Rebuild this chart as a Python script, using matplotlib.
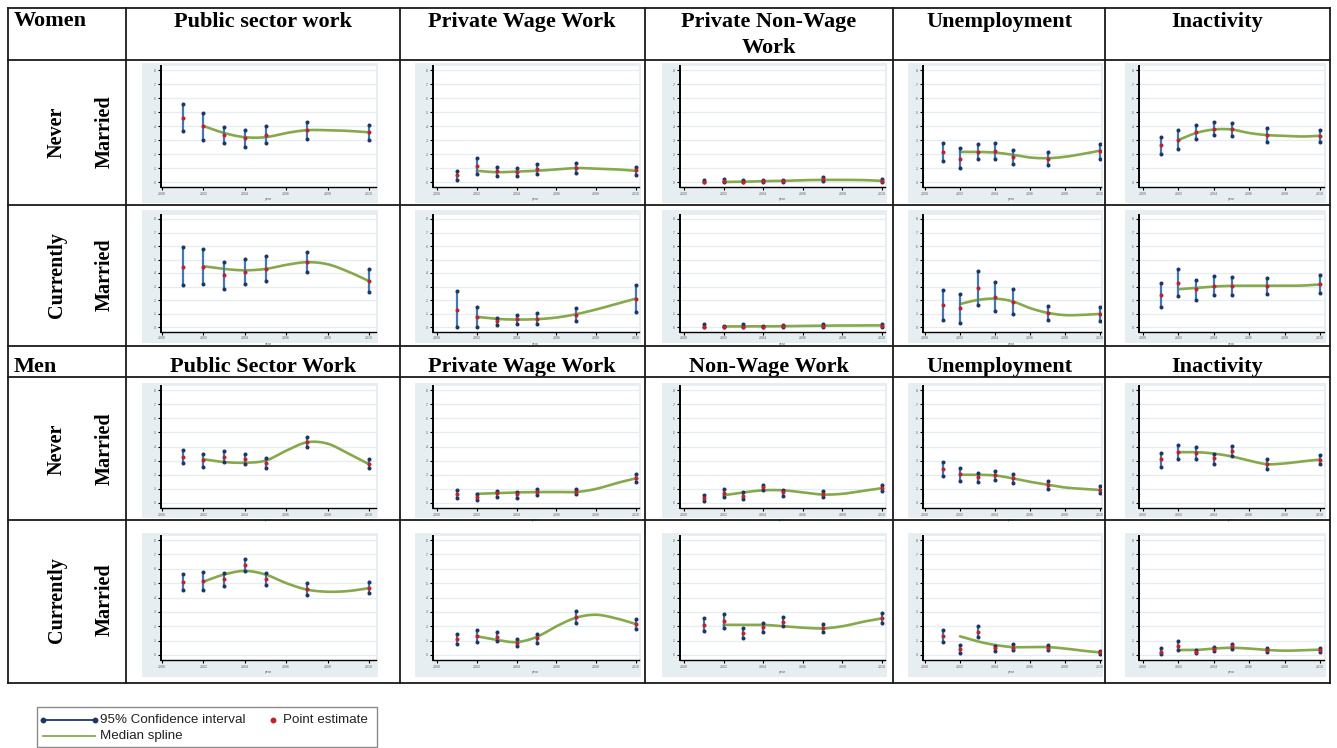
import numpy as np
import matplotlib
matplotlib.use("Agg")
import matplotlib.pyplot as plt
from matplotlib.patches import Rectangle
from matplotlib.lines import Line2D

W, H = 1337, 748

# survey years with an estimate, and years at which the median spline is read
YEARS = [2001, 2002, 2003, 2004, 2005, 2007, 2010]
SPLINE_YEARS = [2002, 2003, 2004, 2005, 2006, 2007, 2008, 2009, 2010]

WOMEN_HEADERS = ["Public sector work", "Private Wage Work", "Private Non-Wage\nWork",
                 "Unemployment", "Inactivity"]
MEN_HEADERS = ["Public Sector Work", "Private Wage Work", "Non-Wage Work",
               "Unemployment", "Inactivity"]
Y_TICKS = [0, .1, .2, .3, .4, .5, .6, .7, .8]
Y_TICK_LABELS = ["0", ".1", ".2", ".3", ".4", ".5", ".6", ".7", ".8"]
X_TICKS = [2000, 2002, 2004, 2006, 2008, 2010]

# ---- Women, never married (columns: public, private wage, non-wage, unemployment, inactivity)
women_never_est = [
    [0.460, 0.400, 0.337, 0.313, 0.335, 0.368, 0.354],
    [0.047, 0.116, 0.078, 0.075, 0.092, 0.100, 0.083],
    [0.003, 0.007, 0.003, 0.005, 0.007, 0.019, 0.009],
    [0.215, 0.167, 0.217, 0.222, 0.182, 0.167, 0.224],
    [0.266, 0.300, 0.356, 0.382, 0.377, 0.337, 0.330],
]
women_never_lo = [
    [0.366, 0.300, 0.276, 0.252, 0.278, 0.309, 0.297],
    [0.017, 0.054, 0.040, 0.040, 0.057, 0.066, 0.052],
    [0.000, 0.000, 0.000, 0.000, 0.000, 0.005, 0.000],
    [0.149, 0.101, 0.167, 0.167, 0.132, 0.120, 0.165],
    [0.203, 0.233, 0.309, 0.333, 0.328, 0.288, 0.285],
]
women_never_hi = [
    [0.556, 0.496, 0.394, 0.373, 0.397, 0.428, 0.409],
    [0.080, 0.175, 0.110, 0.100, 0.127, 0.134, 0.108],
    [0.012, 0.019, 0.012, 0.012, 0.017, 0.033, 0.021],
    [0.280, 0.243, 0.271, 0.278, 0.229, 0.217, 0.271],
    [0.325, 0.368, 0.406, 0.432, 0.425, 0.384, 0.375],
]
women_never_spline = [
    [0.400, 0.350, 0.320, 0.320, 0.350, 0.370, 0.370, 0.365, 0.355],
    [0.080, 0.070, 0.075, 0.080, 0.090, 0.100, 0.095, 0.090, 0.080],
    [0.000, 0.002, 0.006, 0.008, 0.013, 0.015, 0.015, 0.014, 0.008],
    [0.215, 0.215, 0.210, 0.195, 0.175, 0.170, 0.180, 0.200, 0.224],
    [0.300, 0.350, 0.375, 0.375, 0.350, 0.335, 0.330, 0.325, 0.330],
]

# ---- Women, currently married
women_married_est = [
    [0.448, 0.448, 0.382, 0.410, 0.433, 0.480, 0.340],
    [0.124, 0.074, 0.042, 0.057, 0.062, 0.092, 0.211],
    [0.000, 0.000, 0.003, 0.000, 0.005, 0.008, 0.010],
    [0.163, 0.139, 0.292, 0.221, 0.188, 0.104, 0.097],
    [0.238, 0.327, 0.280, 0.304, 0.307, 0.304, 0.317],
]
women_married_lo = [
    [0.310, 0.320, 0.280, 0.318, 0.342, 0.406, 0.256],
    [0.000, 0.000, 0.012, 0.020, 0.025, 0.045, 0.109],
    [0.000, 0.000, 0.000, 0.000, 0.000, 0.000, 0.000],
    [0.050, 0.030, 0.166, 0.119, 0.097, 0.054, 0.047],
    [0.151, 0.228, 0.201, 0.238, 0.235, 0.245, 0.250],
]
women_married_hi = [
    [0.589, 0.580, 0.478, 0.502, 0.527, 0.557, 0.428],
    [0.265, 0.149, 0.067, 0.092, 0.106, 0.140, 0.314],
    [0.020, 0.010, 0.020, 0.006, 0.012, 0.024, 0.025],
    [0.275, 0.245, 0.416, 0.330, 0.282, 0.154, 0.151],
    [0.327, 0.428, 0.351, 0.381, 0.374, 0.364, 0.386],
]
women_married_spline = [
    [0.450, 0.430, 0.420, 0.430, 0.460, 0.480, 0.465, 0.410, 0.340],
    [0.075, 0.060, 0.055, 0.058, 0.070, 0.095, 0.130, 0.170, 0.211],
    [0.004, 0.005, 0.005, 0.006, 0.008, 0.010, 0.011, 0.012, 0.012],
    [0.170, 0.200, 0.210, 0.190, 0.140, 0.105, 0.088, 0.090, 0.097],
    [0.280, 0.290, 0.300, 0.305, 0.305, 0.305, 0.305, 0.307, 0.315],
]

# ---- Men, never married
men_never_est = [
    [0.329, 0.306, 0.329, 0.313, 0.282, 0.435, 0.275],
    [0.064, 0.045, 0.068, 0.061, 0.080, 0.080, 0.179],
    [0.033, 0.068, 0.052, 0.111, 0.075, 0.064, 0.106],
    [0.241, 0.203, 0.186, 0.198, 0.175, 0.127, 0.092],
    [0.309, 0.361, 0.354, 0.316, 0.366, 0.276, 0.307],
]
men_never_lo = [
    [0.282, 0.254, 0.290, 0.278, 0.250, 0.393, 0.247],
    [0.035, 0.021, 0.045, 0.035, 0.059, 0.061, 0.146],
    [0.014, 0.045, 0.028, 0.090, 0.052, 0.042, 0.085],
    [0.191, 0.156, 0.151, 0.160, 0.142, 0.099, 0.068],
    [0.257, 0.309, 0.311, 0.276, 0.333, 0.241, 0.274],
]
men_never_hi = [
    [0.376, 0.350, 0.365, 0.350, 0.320, 0.470, 0.310],
    [0.092, 0.066, 0.087, 0.080, 0.101, 0.101, 0.205],
    [0.057, 0.097, 0.075, 0.130, 0.092, 0.083, 0.130],
    [0.288, 0.245, 0.210, 0.229, 0.205, 0.158, 0.123],
    [0.356, 0.413, 0.399, 0.344, 0.406, 0.311, 0.340],
]
men_never_spline = [
    [0.310, 0.290, 0.285, 0.300, 0.370, 0.430, 0.420, 0.350, 0.275],
    [0.065, 0.070, 0.075, 0.077, 0.078, 0.078, 0.100, 0.140, 0.175],
    [0.055, 0.075, 0.090, 0.090, 0.075, 0.060, 0.065, 0.085, 0.105],
    [0.200, 0.200, 0.195, 0.175, 0.150, 0.130, 0.110, 0.100, 0.092],
    [0.360, 0.360, 0.350, 0.330, 0.300, 0.275, 0.280, 0.295, 0.307],
]

# ---- Men, currently married
men_married_est = [
    [0.506, 0.513, 0.527, 0.627, 0.529, 0.458, 0.469],
    [0.113, 0.129, 0.127, 0.083, 0.118, 0.266, 0.215],
    [0.208, 0.240, 0.153, 0.192, 0.229, 0.187, 0.257],
    [0.134, 0.042, 0.162, 0.051, 0.051, 0.051, 0.018],
    [0.023, 0.065, 0.023, 0.044, 0.060, 0.035, 0.037],
]
men_married_lo = [
    [0.450, 0.450, 0.478, 0.585, 0.488, 0.416, 0.430],
    [0.074, 0.090, 0.097, 0.065, 0.086, 0.224, 0.178],
    [0.166, 0.190, 0.118, 0.160, 0.199, 0.157, 0.222],
    [0.092, 0.014, 0.125, 0.030, 0.035, 0.032, 0.007],
    [0.009, 0.035, 0.014, 0.025, 0.039, 0.018, 0.023],
]
men_married_hi = [
    [0.566, 0.576, 0.571, 0.668, 0.569, 0.499, 0.511],
    [0.148, 0.176, 0.162, 0.111, 0.143, 0.305, 0.252],
    [0.257, 0.287, 0.185, 0.222, 0.263, 0.215, 0.291],
    [0.176, 0.069, 0.199, 0.065, 0.076, 0.069, 0.025],
    [0.046, 0.097, 0.035, 0.058, 0.076, 0.049, 0.051],
]
men_married_spline = [
    [0.510, 0.560, 0.585, 0.560, 0.500, 0.455, 0.440, 0.445, 0.465],
    [0.130, 0.105, 0.090, 0.125, 0.200, 0.260, 0.280, 0.255, 0.215],
    [0.210, 0.210, 0.210, 0.200, 0.190, 0.185, 0.200, 0.230, 0.255],
    [0.130, 0.095, 0.070, 0.055, 0.055, 0.055, 0.045, 0.030, 0.018],
    [0.035, 0.035, 0.045, 0.050, 0.045, 0.035, 0.030, 0.033, 0.037],
]

ROWS = [
    (women_never_est, women_never_lo, women_never_hi, women_never_spline),
    (women_married_est, women_married_lo, women_married_hi, women_married_spline),
    (men_never_est, men_never_lo, men_never_hi, men_never_spline),
    (men_married_est, men_married_lo, men_married_hi, men_married_spline),
]

# ---- colours
BG = "#e6eef2"
GRID = "#e6ecef"
CI_BLUE = "#4278b4"
CAP_NAVY = "#1c3766"
EST_RED = "#c3202b"
SPLINE_GREEN = "#86a94c"

SERIF = "Liberation Serif"
SANS = "Liberation Sans"

fig = plt.figure(figsize=(W / 100, H / 100), dpi=100)
fig.patch.set_facecolor("white")


def fx(x):
    return x / W


def fy(y):
    return 1 - y / H


def smooth(xs, ys, n=20):
    """Catmull-Rom curve through the spline knots."""
    xs = np.asarray(xs, float)
    ys = np.asarray(ys, float)
    px = np.concatenate([[2 * xs[0] - xs[1]], xs, [2 * xs[-1] - xs[-2]]])
    py = np.concatenate([[2 * ys[0] - ys[1]], ys, [2 * ys[-1] - ys[-2]]])
    out_x, out_y = [], []
    t = np.linspace(0, 1, n, endpoint=False)
    for i in range(1, len(px) - 2):
        for arr, out in ((px, out_x), (py, out_y)):
            p0, p1, p2, p3 = arr[i - 1], arr[i], arr[i + 1], arr[i + 2]
            out.extend(0.5 * ((2 * p1) + (-p0 + p2) * t
                              + (2 * p0 - 5 * p1 + 4 * p2 - p3) * t ** 2
                              + (-p0 + 3 * p1 - 3 * p2 + p3) * t ** 3))
    out_x.append(xs[-1])
    out_y.append(ys[-1])
    return np.array(out_x), np.array(out_y)


# ---- table grid
LINE_KW = dict(color="#1a1a1a", lw=1.3, transform=fig.transFigure, zorder=5)
col_edges = [8, 126, 400, 645, 893, 1105, 1330]
row_edges = [8, 60, 205, 346, 377, 520, 683]
for x in col_edges:
    fig.add_artist(Line2D([fx(x), fx(x)], [fy(8), fy(683)], **LINE_KW))
for y in row_edges:
    fig.add_artist(Line2D([fx(8), fx(1330)], [fy(y), fy(y)], **LINE_KW))

# headers
HDR = dict(fontsize=16, fontweight="bold", family=SERIF, color="black")
fig.text(fx(14), fy(21), "Women", ha="left", va="center", **HDR)
fig.text(fx(14), fy(367), "Men", ha="left", va="center", **HDR)
col_centres = [263, 522, 769, 999, 1217]
for cx, label in zip(col_centres, WOMEN_HEADERS):
    fig.text(fx(cx), fy(12), label, ha="center", va="top", linespacing=1.4, **HDR)
for cx, label in zip(col_centres, MEN_HEADERS):
    fig.text(fx(cx), fy(367), label, ha="center", va="center", **HDR)

# row labels
ROW_LAB = dict(fontsize=14.5, fontweight="bold", family=SERIF, rotation=90,
               ha="center", va="center")
row_label_y = [132, 275, 449, 600]
row_first = ["Never", "Currently", "Never", "Currently"]
for yc, first in zip(row_label_y, row_first):
    fig.text(fx(57), fy(yc), first, **ROW_LAB)
    fig.text(fx(105), fy(yc), "Married", **ROW_LAB)

# panel geometry: (bg_left, bg_right, axis_left, x_2000, x_2010, axis_right)
COLS = [
    (142, 378, 161, 162, 369, 376),
    (415, 641, 433, 437, 636, 639),
    (662, 887, 680, 684, 882, 885),
    (908, 1103, 923, 925, 1100, 1101),
    (1125, 1326, 1139, 1143, 1320, 1324),
]
# (bg_top, bg_bottom, y_of_0.8, y_of_0)
ROWS_GEOM = [
    (63, 203, 70, 182),
    (210, 343, 219, 327),
    (383, 518, 390, 503),
    (533, 677, 540, 655),
]
Y_LO, Y_HI = -0.035, 0.83

for r, (est_all, lo_all, hi_all, spl_all) in enumerate(ROWS):
    bg_t, bg_b, y08, y0 = ROWS_GEOM[r]
    per_unit = (y0 - y08) / 0.8
    ax_top = y0 - Y_HI * per_unit
    ax_bot = y0 - Y_LO * per_unit
    for c in range(5):
        bl, br, al, x00, x10, ar = COLS[c]
        fig.add_artist(Rectangle((fx(bl), fy(bg_b)), fx(br - bl), (bg_b - bg_t) / H,
                                 transform=fig.transFigure, facecolor=BG,
                                 edgecolor="none", zorder=0))
        per_year = (x10 - x00) / 10
        x_lo = 2000 - (x00 - al) / per_year
        x_hi = 2010 + (ar - x10) / per_year
        ax = fig.add_axes([fx(al), fy(ax_bot), (ar - al) / W, (ax_bot - ax_top) / H])
        ax.set_facecolor("white")
        ax.set_zorder(1)
        ax.set_xlim(x_lo, x_hi)
        ax.set_ylim(Y_LO, Y_HI)
        for s in ("top", "right"):
            ax.spines[s].set_visible(False)
        ax.spines["left"].set_linewidth(1.4)
        ax.spines["bottom"].set_linewidth(1.0)
        ax.set_yticks(Y_TICKS)
        ax.set_yticklabels(Y_TICK_LABELS)
        ax.set_xticks(X_TICKS)
        ax.set_xticklabels([str(v) for v in X_TICKS])
        ax.tick_params(axis="both", length=2.2, width=0.8, pad=1.2,
                       labelsize=2.6, labelcolor="#666666")
        for lab in ax.get_xticklabels() + ax.get_yticklabels():
            lab.set_family(SANS)
        ax.grid(axis="y", color=GRID, lw=0.9)
        ax.set_axisbelow(True)
        ax.set_xlabel("year", fontsize=2.6, color="#666666", labelpad=0.8, family=SANS)

        est, lo, hi, spl = est_all[c], lo_all[c], hi_all[c], spl_all[c]
        sx, sy = smooth(SPLINE_YEARS, spl)
        ax.plot(sx, sy, color=SPLINE_GREEN, lw=1.9, solid_capstyle="round", zorder=2)
        ax.vlines(YEARS, lo, hi, color=CI_BLUE, lw=1.6, zorder=3)
        ax.plot(YEARS, lo, "o", color=CAP_NAVY, ms=2.9, mew=0, zorder=4)
        ax.plot(YEARS, hi, "o", color=CAP_NAVY, ms=2.9, mew=0, zorder=4)
        ax.plot(YEARS, est, "o", color=EST_RED, ms=2.9, mew=0, zorder=5)

# ---- legend box
fig.add_artist(Rectangle((fx(37), fy(747)), fx(377 - 37), 40 / H,
                         transform=fig.transFigure, facecolor="white",
                         edgecolor="#8a8a8a", lw=1.0, zorder=1))
fig.add_artist(Line2D([fx(43), fx(95)], [fy(720), fy(720)], color=CAP_NAVY, lw=1.3,
                      marker="o", ms=3.2, markevery=[0, 1], transform=fig.transFigure, zorder=2))
fig.add_artist(Line2D([fx(273)], [fy(720)], color=EST_RED, lw=0, marker="o", ms=3.2,
                      transform=fig.transFigure, zorder=2))
fig.add_artist(Line2D([fx(43), fx(95)], [fy(736), fy(736)], color=SPLINE_GREEN, lw=1.3,
                      transform=fig.transFigure, zorder=2))
LEG = dict(fontsize=9.6, family=SANS, color="#222222", va="center", ha="left", zorder=3)
fig.text(fx(100), fy(720), "95% Confidence interval", **LEG)
fig.text(fx(283), fy(720), "Point estimate", **LEG)
fig.text(fx(100), fy(736), "Median spline", **LEG)

fig.savefig("out.png", dpi=100)
